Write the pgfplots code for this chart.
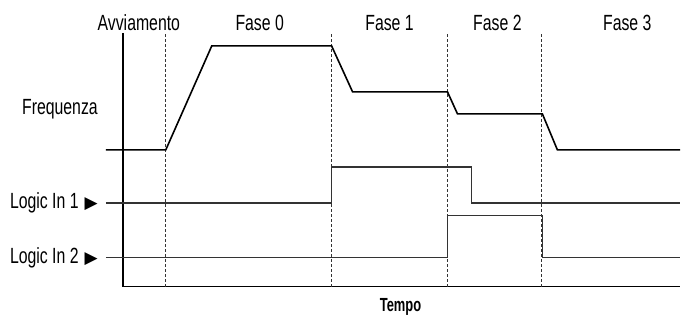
\documentclass[border=0pt]{standalone}
\usepackage{pgfplots}
\pgfplotsset{compat=1.18}
\usepackage{fontspec}
\setmainfont{Liberation Sans}[FakeStretch=0.72]
\newfontfamily\narrowbold{Liberation Sans}[FakeStretch=0.68]
\newfontfamily\sym{DejaVu Sans}
\tikzset{lbl/.style={font=\fontsize{22}{26}\selectfont, inner sep=0pt}}

\begin{document}
\begin{tikzpicture}
\begin{axis}[
  x=1pt, y=1pt,
  xmin=0, xmax=681, ymin=0, ymax=323,
  hide axis, clip=false,
  every axis plot/.append style={no markers},
]
% bounding frame (invisible)
\addplot[draw=none] coordinates {(0,0) (681,323)};

% axes
\addplot[black, line width=1.6pt] coordinates {(123,290) (123,36) (681,36)};

% phase boundaries
\addplot[black!80, line width=0.9pt, dash pattern=on 3pt off 2pt] coordinates {(166,36) (166,290)};
\addplot[black!80, line width=0.9pt, dash pattern=on 3pt off 2pt] coordinates {(332,36) (332,290)};
\addplot[black!80, line width=0.9pt, dash pattern=on 3pt off 2pt] coordinates {(448,36) (448,290)};
\addplot[black!80, line width=0.9pt, dash pattern=on 3pt off 2pt] coordinates {(542,36) (542,290)};

% Frequenza
\addplot[black, line width=1.6pt] coordinates
  {(106,173) (166,173) (212,277) (332,277) (353,231) (448,231) (458,209) (543,209) (558,173) (681,173)};
% Logic In 1
\addplot[black!80, line width=1.5pt] coordinates
  {(106,120) (332,120) (332,156) (472,156) (472,120) (681,120)};
% Logic In 2
\addplot[black!80, line width=1.5pt] coordinates
  {(106,65) (448,65) (448,107) (543,107) (543,65) (681,65)};

% labels
\node[lbl] at (axis cs:139,300) {Avviamento};
\node[lbl] at (axis cs:260,300) {Fase 0};
\node[lbl] at (axis cs:390,300) {Fase 1};
\node[lbl] at (axis cs:498,300) {Fase 2};
\node[lbl] at (axis cs:628,300) {Fase 3};
\node[lbl] at (axis cs:60,214) {Frequenza};
\node[lbl, anchor=east] at (axis cs:98,120) {Logic In 1\hspace{6pt}{\sym\fontsize{17}{18}\selectfont ▶}};
\node[lbl, anchor=east] at (axis cs:98,65) {Logic In 2\hspace{6pt}{\sym\fontsize{17}{18}\selectfont ▶}};
\node[inner sep=0pt, font=\narrowbold\bfseries\fontsize{19}{22}\selectfont] at (axis cs:401,16) {Tempo};
\end{axis}
\end{tikzpicture}
\end{document}
